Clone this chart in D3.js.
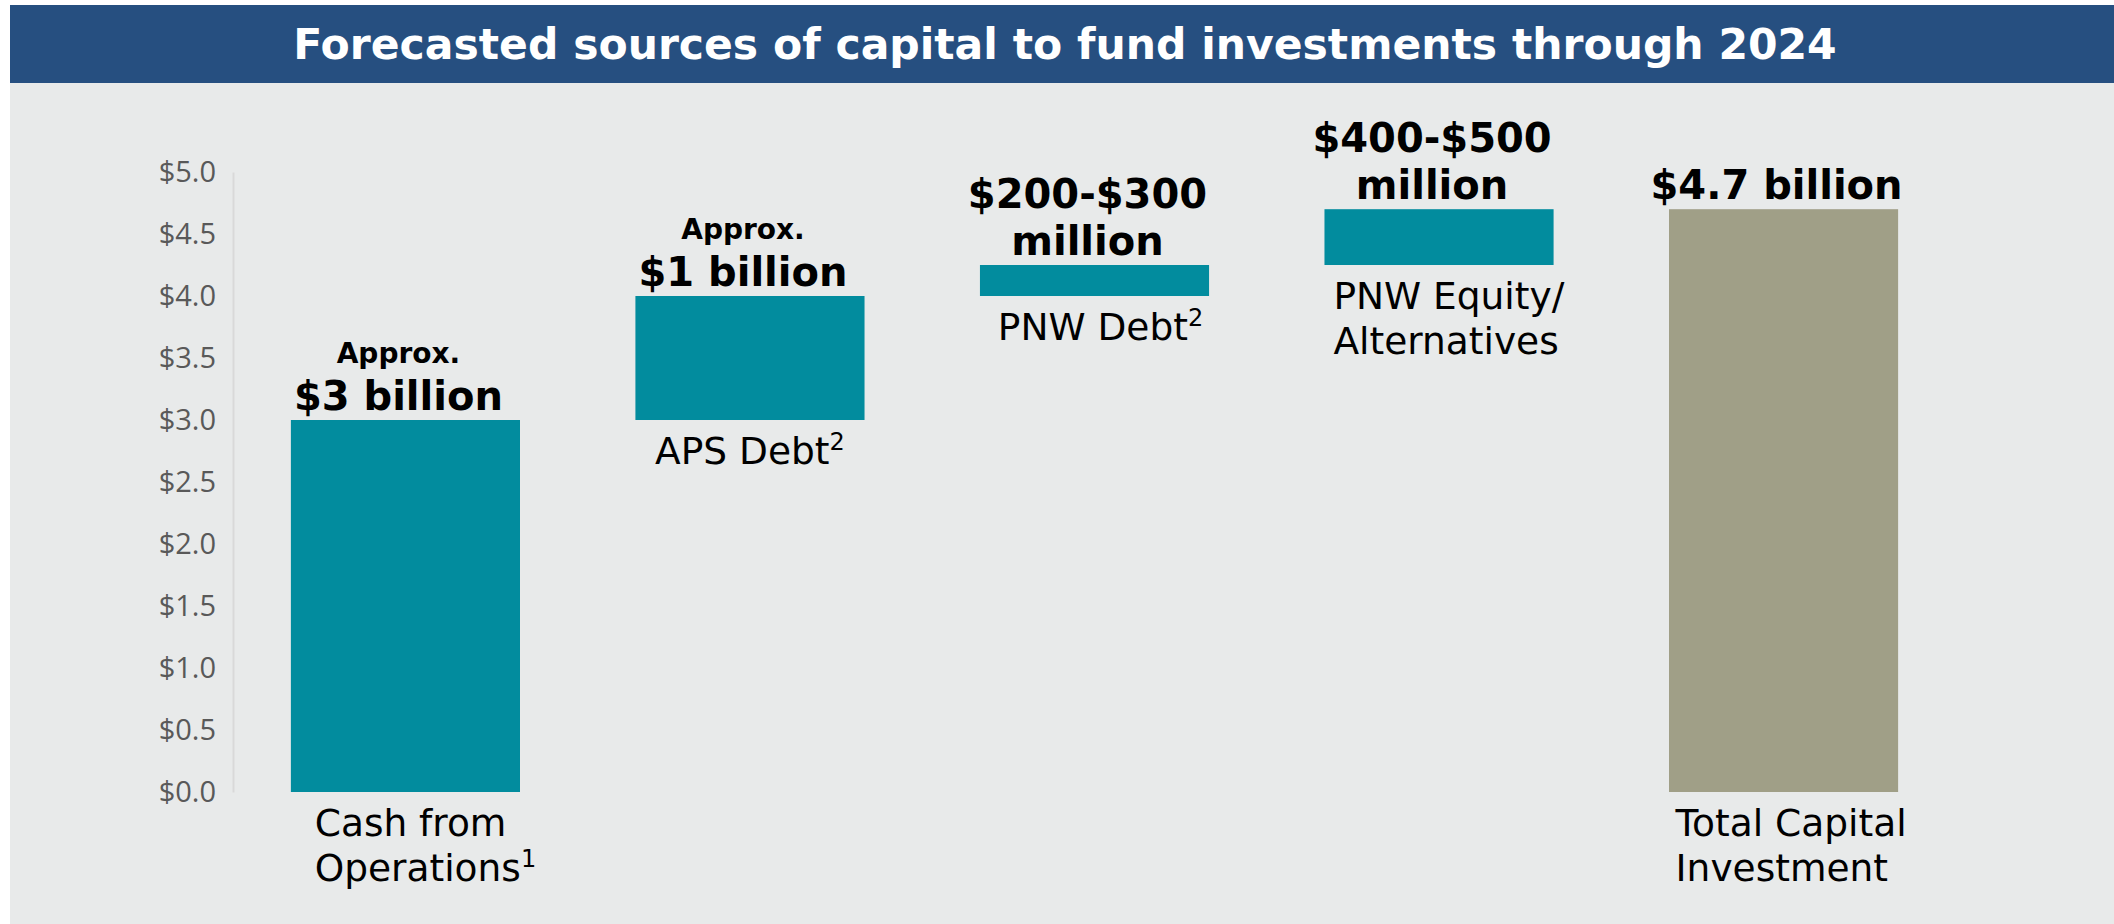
<!DOCTYPE html>
<html>
<head>
<meta charset="utf-8">
<script src="https://cdn.jsdelivr.net/npm/d3@7"></script>
<style>
  html, body { margin: 0; padding: 0; background: #fff; }
  svg { display: block; }
</style>
</head>
<body>
<svg id="chart"></svg>
<script>
const width = 2114, height = 924;

// Data
const title = "Forecasted sources of capital to fund investments through 2024";
const categories = ["cash", "aps", "pnwDebt", "pnwEquity", "total"];
const barStarts = [0, 3.0, 4.0, 4.25, 0];
const barEnds = [3.0, 4.0, 4.25, 4.7, 4.7];
const valueLabels = [
  ["Approx.", "$3 billion"],
  ["Approx.", "$1 billion"],
  ["$200-$300", "million"],
  ["$400-$500", "million"],
  ["$4.7 billion"]
];
// each line: [text, superscript]
const categoryLabels = [
  [["Cash from", ""], ["Operations", "1"]],
  [["APS Debt", "2"]],
  [["PNW Debt", "2"]],
  [["PNW Equity/", ""], ["Alternatives", ""]],
  [["Total Capital", ""], ["Investment", ""]]
];
const yTicks = [0, 0.5, 1.0, 1.5, 2.0, 2.5, 3.0, 3.5, 4.0, 4.5, 5.0];

// layout nudges for the hand placed text boxes under the bars
const labelNudge = [20, 0, 6, 10, 8];

const teal = "#028c9e", olive = "#a09f87";

const svg = d3.select("#chart")
  .attr("width", width)
  .attr("height", height);

// panel + header
svg.append("rect")
  .attr("x", 10).attr("y", 83)
  .attr("width", width - 10).attr("height", height - 83)
  .attr("fill", "#e8eaea");

svg.append("rect")
  .attr("x", 10).attr("y", 5)
  .attr("width", width - 10).attr("height", 78)
  .attr("fill", "#264f80");

svg.append("text")
  .attr("x", 1065).attr("y", 59)
  .attr("text-anchor", "middle")
  .attr("font-family", "DejaVu Sans")
  .attr("font-weight", "bold")
  .attr("font-size", 42.5)
  .attr("fill", "#fff")
  .text(title);

const x = d3.scaleBand()
  .domain(categories)
  .range([233, 1956])
  .paddingInner(0.335)
  .paddingOuter(0.168);

const y = d3.scaleLinear()
  .domain([0, 5])
  .range([792, 172]);

// y axis
const yAxis = svg.append("g")
  .attr("transform", "translate(233,0)")
  .call(d3.axisLeft(y).tickValues(yTicks).tickSize(0).tickPadding(17)
    .tickFormat(d => "$" + d.toFixed(1)));

yAxis.select(".domain").attr("stroke", "#d9d9d9").attr("stroke-width", 2);
yAxis.selectAll("text")
  .attr("font-family", "Open Sans")
  .attr("font-size", 29)
  .attr("fill", "#595959");

// bars
svg.selectAll("rect.bar")
  .data(categories)
  .join("rect")
  .attr("class", "bar")
  .attr("x", d => x(d))
  .attr("width", x.bandwidth())
  .attr("y", (d, i) => y(barEnds[i]))
  .attr("height", (d, i) => y(barStarts[i]) - y(barEnds[i]))
  .attr("fill", (d, i) => i === categories.length - 1 ? olive : teal);

// value labels above bars
categories.forEach((c, i) => {
  const lines = valueLabels[i];
  const cx = x(c) + x.bandwidth() / 2 - 7;
  const base = y(barEnds[i]) - 10;
  const n = lines.length;
  lines.forEach((t, j) => {
    const small = t === "Approx.";
    svg.append("text")
      .attr("x", cx)
      .attr("y", base - (n - 1 - j) * 47)
      .attr("text-anchor", "middle")
      .attr("font-family", "DejaVu Sans")
      .attr("font-weight", "bold")
      .attr("font-size", small ? 28 : 40)
      .attr("fill", "#000")
      .text(t);
  });
});

// category labels below bars (left aligned block, centred under bar)
categories.forEach((c, i) => {
  const g = svg.append("g");
  const base = y(barStarts[i]) + 44;
  const txt = g.append("text")
    .attr("font-family", "DejaVu Sans")
    .attr("font-size", 37.5)
    .attr("fill", "#000");
  categoryLabels[i].forEach(([t, sup], j) => {
    txt.append("tspan")
      .attr("x", 0)
      .attr("y", base + j * 45)
      .text(t);
    if (sup) {
      txt.append("tspan")
        .attr("dy", -14)
        .attr("font-size", 24)
        .text(sup);
      txt.append("tspan").attr("dy", 14).text("");
    }
  });
  const bb = txt.node().getBBox();
  const cx = x(c) + x.bandwidth() / 2 + labelNudge[i];
  g.attr("transform", `translate(${cx - bb.width / 2},0)`);
});
</script>
</body>
</html>
